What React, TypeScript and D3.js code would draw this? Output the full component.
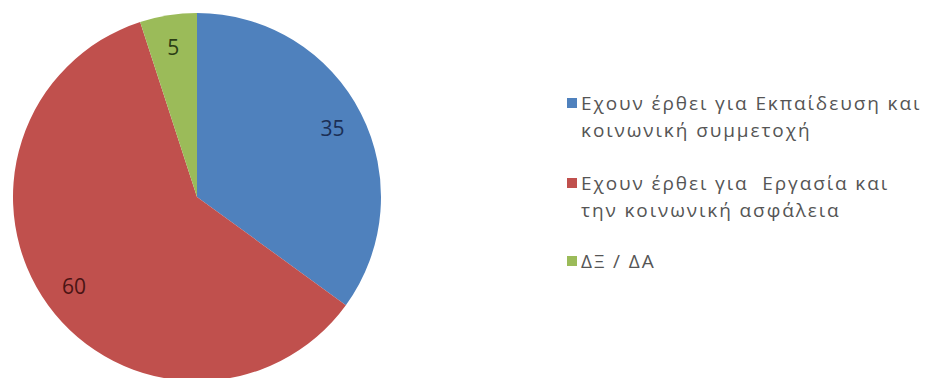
import React from "react";
import * as d3 from "d3";

const categories = [
  ["Εχουν έρθει για Εκπαίδευση και", "κοινωνική συμμετοχή"],
  ["Εχουν έρθει για  Εργασία και", "την κοινωνική ασφάλεια"],
  ["ΔΞ / ΔΑ"],
];
const values = [35, 60, 5];
const colors = ["#4F81BD", "#C0504D", "#9BBB59"];
const labelColors = ["#1b2f55", "#4a1414", "#2b3d14"];

const W = 927;
const H = 378;
const cx = 197;
const cy = 197;
const R = 184;

export default function App() {
  const pie = d3.pie<number>().sort(null).value((d) => d);
  const arcs = pie(values);
  const arc = d3.arc<d3.PieArcDatum<number>>().innerRadius(0).outerRadius(R);
  const labelArc = d3.arc<d3.PieArcDatum<number>>().innerRadius(152).outerRadius(152);

  const legendX = 567;
  const lineH = 27;
  const entryTops = [110, 190, 268];

  return (
    <div style={{ position: "absolute", left: 0, top: 0 }}>
      <svg width={W} height={H} style={{ display: "block", background: "#fff" }}>
        <g transform={`translate(${cx},${cy})`}>
          {arcs.map((a, i) => (
            <path key={i} d={arc(a) || ""} fill={colors[i]} />
          ))}
          {arcs.map((a, i) => {
            const [x, y] = labelArc.centroid(a);
            return (
              <text
                key={"l" + i}
                x={x}
                y={y}
                textAnchor="middle"
                dominantBaseline="central"
                fontFamily="'Open Sans', sans-serif"
                fontSize={21}
                fill={labelColors[i]}
              >
                {values[i]}
              </text>
            );
          })}
        </g>
        <g fontFamily="'Open Sans', sans-serif" fontSize={19} fill="#555" letterSpacing={1.9}>
          {categories.map((lines, i) => (
            <g key={i}>
              <rect x={legendX} y={entryTops[i] - 12} width={10} height={10} fill={colors[i]} />
              {lines.map((t, j) => (
                <text key={j} x={legendX + 14} y={entryTops[i] + j * lineH} xmlSpace="preserve">
                  {t}
                </text>
              ))}
            </g>
          ))}
        </g>
      </svg>
    </div>
  );
}
